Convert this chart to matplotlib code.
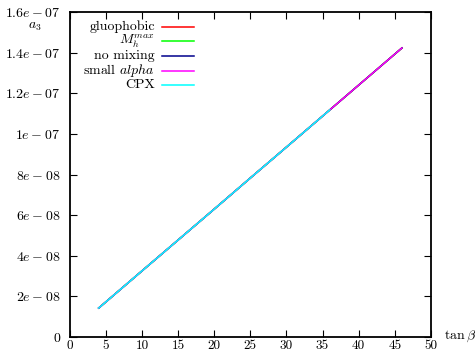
from matplotlib import pyplot as plt
import numpy as np

plt.rcParams['mathtext.fontset'] = 'cm'
plt.rcParams['font.family'] = ['cmr10', 'DejaVu Serif']
plt.rcParams['axes.formatter.use_mathtext'] = True

tanb = [4, 10, 15, 20, 25, 30, 36, 40, 46]
a3_gluophobic = [1.43e-08, 3.26e-08, 4.78e-08, 6.30e-08, 7.83e-08, 9.35e-08, 1.118e-07, 1.240e-07, 1.423e-07]
a3_mhmax = [1.43e-08, 3.26e-08, 4.78e-08, 6.30e-08, 7.83e-08, 9.35e-08, 1.118e-07, 1.240e-07, 1.423e-07]
a3_nomix = [1.43e-08, 3.26e-08, 4.78e-08, 6.30e-08, 7.83e-08, 9.35e-08, 1.118e-07, 1.240e-07, 1.423e-07]
a3_smallalpha = [1.43e-08, 3.26e-08, 4.78e-08, 6.30e-08, 7.83e-08, 9.35e-08, 1.118e-07, 1.240e-07, 1.423e-07]
tanb_cpx = [4, 10, 15, 20, 25, 30, 36]
a3_cpx = [1.43e-08, 3.26e-08, 4.78e-08, 6.30e-08, 7.83e-08, 9.35e-08, 1.118e-07]

labels = ["gluophobic", r"$M_h^{max}$", "no mixing", r"small $alpha$", "CPX"]
colors = ["#ff0000", "#00ff00", "#00008b", "#ff00ff", "#00ffff"]
series = [(tanb, a3_gluophobic), (tanb, a3_mhmax), (tanb, a3_nomix),
          (tanb, a3_smallalpha), (tanb_cpx, a3_cpx)]

xticks = np.arange(0, 51, 5)
yticks = np.arange(0, 1.61e-07, 2e-08)
ytick_labels = ["0", r"$2e-08$", r"$4e-08$", r"$6e-08$", r"$8e-08$", r"$1e-07$",
                r"$1.2e-07$", r"$1.4e-07$", r"$1.6e-07$"]

fig = plt.figure(figsize=(4.75, 3.53), dpi=100)
ax = fig.add_axes([0.147, 0.045, 0.760, 0.921])

for (xs, ys), c in zip(series, colors):
    ax.plot(xs, ys, color=c, lw=1.1)

ax.set_xlim(0, 50)
ax.set_ylim(0, 1.6e-07)
ax.set_xticks(xticks)
ax.set_xticklabels([str(v) for v in xticks])
ax.set_yticks(yticks)
ax.set_yticklabels(ytick_labels)
ax.tick_params(direction='in', length=5, width=0.8, top=True, right=True,
               labelsize=10, colors='black')
ax.tick_params(axis='x', pad=2, labelsize=9.5)
ax.tick_params(axis='y', pad=7)
for s in ax.spines.values():
    s.set_linewidth(1.3)

# legend, gnuplot style: right-aligned text, sample line to the right
for i, (lab, c) in enumerate(zip(labels, colors)):
    yy = 0.954 - i * 0.0447
    ax.text(0.235, yy, lab, transform=ax.transAxes, ha='right', va='center', fontsize=10)
    ax.plot([0.255, 0.343], [yy, yy], transform=ax.transAxes, color=c, lw=1.1)

fig.text(0.074, 0.923, r"$a_3$", ha='center', va='center', fontsize=10)
fig.text(0.968, 0.048, r"$\tan\beta$", ha='center', va='center', fontsize=10)

plt.savefig("out.png", dpi=100)
